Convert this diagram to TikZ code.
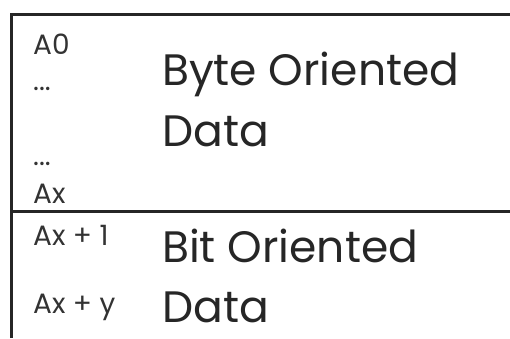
\documentclass[tikz,border=0pt]{standalone}
\usepackage{fontspec}
\setmainfont{Poppins}
\begin{document}
\begin{tikzpicture}[x=1pt,y=-1pt,
  frame/.style={line width=3pt,draw=black!85},
  small/.style={anchor=base west,inner sep=0pt,font=\fontsize{28}{28}\selectfont,text=black!80},
  big/.style={anchor=base west,inner sep=0pt,font=\fontsize{44}{44}\selectfont,text=black!85}]
\useasboundingbox (0,0) rectangle (510,338);
\coordinate (tl) at (11,14.5);
\coordinate (tr) at (510,14.5);
\coordinate (bl) at (11,338);
\coordinate (ml) at (11,211);
\coordinate (mr) at (510,211);
\draw[frame] (bl) -- (tl) -- (tr);
\draw[frame] (ml) -- (mr);
\node[small] (a0) at (33,54) {A0};
\node[small] (d1) at (33,90) {...};
\node[small] (d2) at (33,165) {...};
\node[small] (ax) at (33,203) {Ax};
\node[small] (ax1) at (33,245) {Ax + 1};
\node[small] (axy) at (33,313) {Ax + y};
\node[big] (byte) at (162,85) {Byte Oriented};
\node[big] (data1) at (162,146) {Data};
\node[big] (bit) at (162,262) {Bit Oriented};
\node[big] (data2) at (162,322) {Data};
\end{tikzpicture}
\end{document}
